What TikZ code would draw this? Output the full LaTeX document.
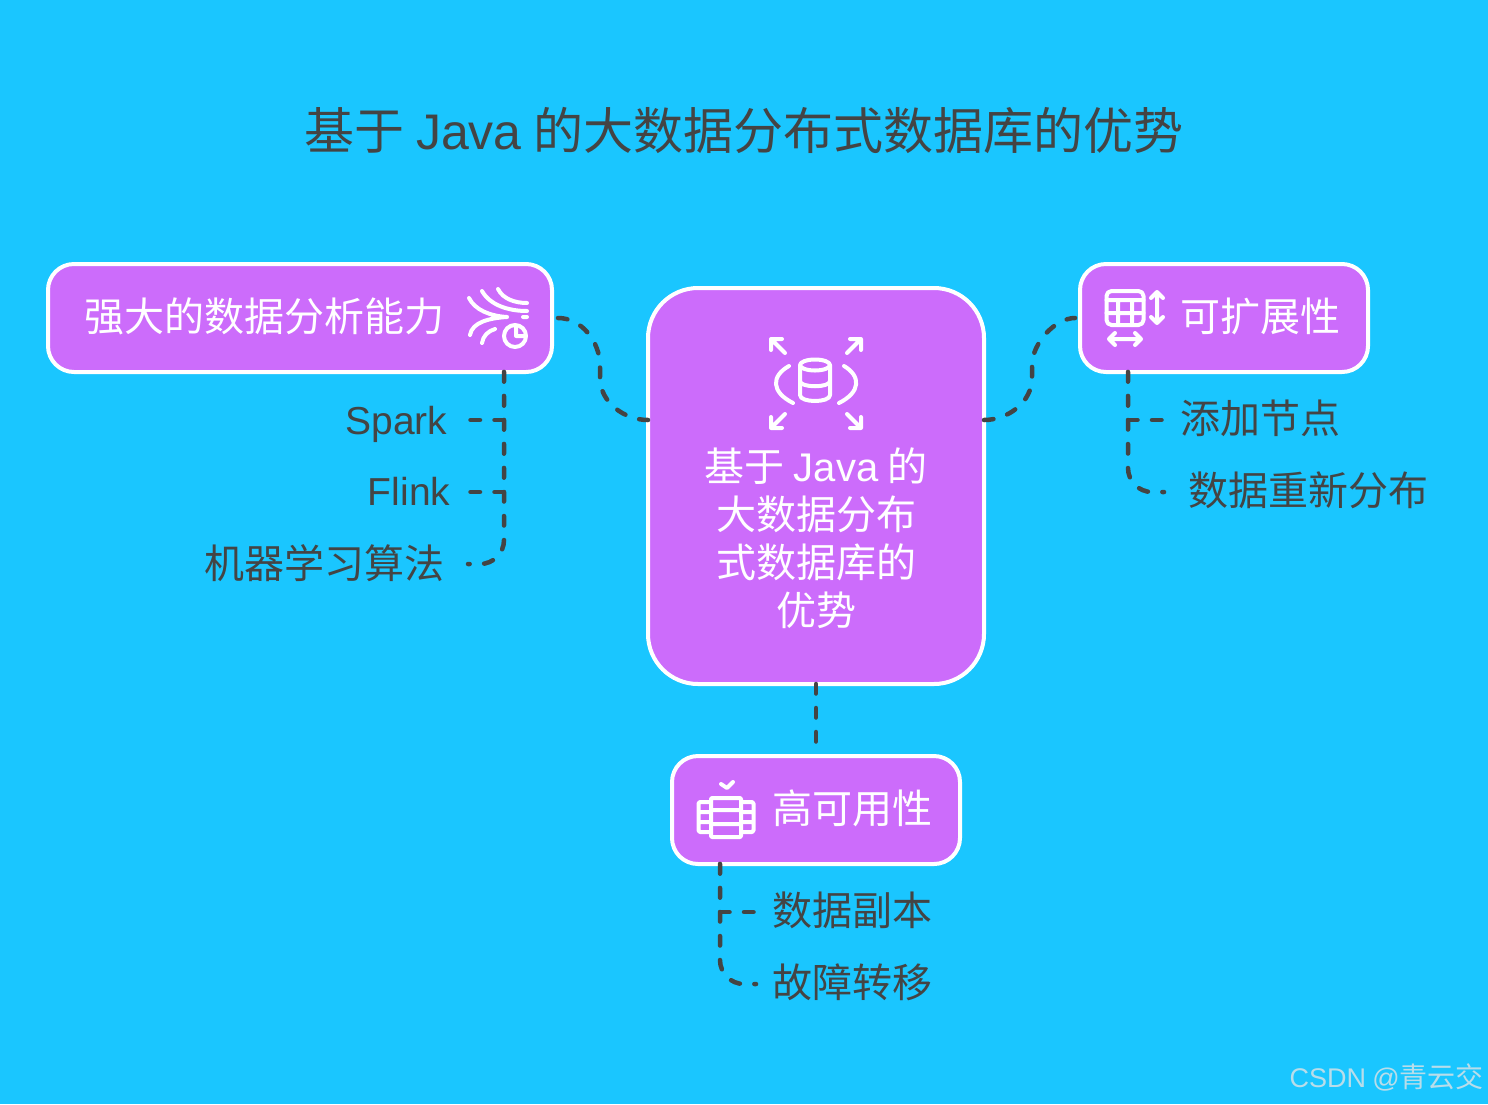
\documentclass[tikz,border=0pt]{standalone}
\usepackage{fontspec}
\setmainfont{Noto Sans CJK SC}
\newfontfamily\latinf[WordSpace=0.85]{Liberation Sans}
\usetikzlibrary{positioning}
\definecolor{skybg}{HTML}{1AC6FF}
\definecolor{boxfill}{HTML}{CC6CFB}
\definecolor{inkc}{HTML}{444444}
\definecolor{markc}{HTML}{B8DDEA}
\tikzset{
  box/.style={draw=white, fill=boxfill, line width=4pt, rounded corners=26pt, inner sep=0pt, outer sep=0pt},
  boxtext/.style={text=white, inner sep=0pt, font=\fontsize{40}{48}\selectfont, align=center},
  leaf/.style={text=inkc, inner sep=0pt, font=\fontsize{40}{48}\selectfont},
  link/.style={draw=inkc, line width=4.5pt, line cap=round, dash pattern=on 9.5pt off 14.5pt},
  icon/.style={draw=white, line width=4pt, line cap=round, line join=round},
}
\begin{document}
\begin{tikzpicture}[x=1pt, y=-1pt]
  \fill[skybg] (0,0) rectangle (1488,1104);
  \useasboundingbox (0,0) rectangle (1488,1104);

  \node[text=inkc, inner sep=0pt, font=\fontsize{50}{60}\selectfont] (title) at (744,131) {基于{\latinf{} Java }的大数据分布式数据库的优势};

  % boxes
  \node[box, minimum width=504pt, minimum height=108pt] (strong) at (300,318) {};
  \node[box, minimum width=336pt, minimum height=396pt, rounded corners=50pt] (core) at (816,486) {};
  \node[box, minimum width=288pt, minimum height=108pt] (scale) at (1224,318) {};
  \node[box, minimum width=288pt, minimum height=108pt] (avail) at (816,810) {};

  \node[boxtext] (stronglabel) at (264,316) {强大的数据分析能力};
  \node[boxtext] (corelabel) at (816,538) {基于{\latinf{} Java }的\\大数据分布\\式数据库的\\优势};
  \node[boxtext] (scalelabel) at (1260,316) {可扩展性};
  \node[boxtext] (availlabel) at (852,808) {高可用性};

  % leaves
  \node[leaf, anchor=base east] (spark) at (447.5,434) {\latinf\fontsize{39}{48}\selectfont Spark};
  \node[leaf, anchor=base east] (flink) at (450.5,505) {\latinf\fontsize{39}{48}\selectfont Flink};
  \node[leaf, anchor=east] (ml) at (445,563) {机器学习算法};
  \node[leaf, anchor=west] (addnode) at (1180,418) {添加节点};
  \node[leaf, anchor=west] (rebal) at (1188,490) {数据重新分布};
  \node[leaf, anchor=west] (replica) at (772,910) {数据副本};
  \node[leaf, anchor=west] (failover) at (772,982) {故障转移};

  \node[text=markc, inner sep=0pt, anchor=east, font=\fontsize{28}{34}\selectfont] (mark) at (1484,1077) {{\latinf\fontsize{27}{34}\selectfont CSDN @}青云交};

  % connectors
  \coordinate (strongfoot) at (504,372);
  \coordinate (scalefoot) at (1128,372);
  \coordinate (availfoot) at (720,864);
  \path[link]
    (strongfoot) -- (504,420) -- (468,420)
    (strongfoot) -- (504,492) -- (468,492);
  \draw[link, rounded corners=24pt] (strongfoot) -- (504,564) -- (468,564);
  \draw[link] (scalefoot) -- (1128,420) -- (1164,420);
  \draw[link, rounded corners=24pt] (scalefoot) -- (1128,492) -- (1164,492);
  \draw[link] (availfoot) -- (720,912) -- (756,912);
  \draw[link, rounded corners=24pt] (availfoot) -- (720,984) -- (756,984);
  \draw[link, dash phase=18pt] (strong.east) -- (558,318) .. controls (582,318) and (600,342) .. (600,366) -- (600,378) .. controls (600,402) and (624,420) .. (core.west |- 0,420);
  \draw[link, shorten >=5pt] (core.east |- 0,420) .. controls (1008,420) and (1032,402) .. (1032,378) -- (1032,366) .. controls (1032,342) and (1056,318) .. (scale.west);
  \draw[link, shorten >=8pt] (core.south) -- (avail.north);

  % icon of the strong box
  \draw[icon]
    (498,289) .. controls (503,299) and (515,303) .. (527,303)
    (482,291) .. controls (490,305) and (508,311) .. (527,311)
    (469,298) .. controls (475,310) and (490,316) .. (507,317)
    (507,317) .. controls (490,318) and (472,322) .. (470,335)
    (495,329) .. controls (488,331) and (483,336) .. (482,343)
    (523,317) -- (527,317)
    (516,327) -- (516,336) -- (524,336);
  \draw[icon] (515,336) circle (11);

  % icon of the core box
  \draw[icon]
    (815,365) circle [x radius=15, y radius=5.5]
    (800,365) -- (800,395) .. controls (800,403) and (830,403) .. (830,395) -- (830,365)
    (800,381) .. controls (800,388) and (830,388) .. (830,381)
    (789,366) .. controls (771,376) and (771,392) .. (793,403)
    (844,366) .. controls (861,376) and (861,392) .. (839,403)
    (785,353) -- (771,339) (771,350) -- (771,339) -- (782,339)
    (847,353) -- (861,339) (850,339) -- (861,339) -- (861,350)
    (785,414) -- (771,428) (771,417) -- (771,428) -- (782,428)
    (847,414) -- (861,428) (861,417) -- (861,428) -- (850,428);

  % icon of the scale box
  \draw[icon, rounded corners=5pt] (1106.5,291) rectangle (1143.5,325);
  \draw[icon]
    (1106.5,300) -- (1143.5,300) (1106.5,313) -- (1143.5,313)
    (1118,300) -- (1118,325) (1132,300) -- (1132,325)
    (1157,292) -- (1157,323) (1151,298) -- (1157,292) -- (1163,298) (1151,317) -- (1157,323) -- (1163,317)
    (1109,339) -- (1141,339) (1115,333) -- (1109,339) -- (1115,345) (1135,333) -- (1141,339) -- (1135,345);

  % icon of the avail box
  \draw[icon] (721,784) -- (727,788) -- (733,782);
  \draw[icon, rounded corners=1pt] (711,798) rectangle (741,837);
  \draw[icon]
    (711,810) -- (741,810) (711,824) -- (741,824)
    (711,802) -- (700,802) -- (698.5,803.5) -- (698.5,830.5) -- (700,832) -- (711,832)
    (741,802) -- (752,802) -- (753.5,803.5) -- (753.5,830.5) -- (752,832) -- (741,832)
    (698.5,812) -- (711,812) (698.5,822) -- (711,822)
    (741,812) -- (753.5,812) (741,822) -- (753.5,822);
\end{tikzpicture}
\end{document}
